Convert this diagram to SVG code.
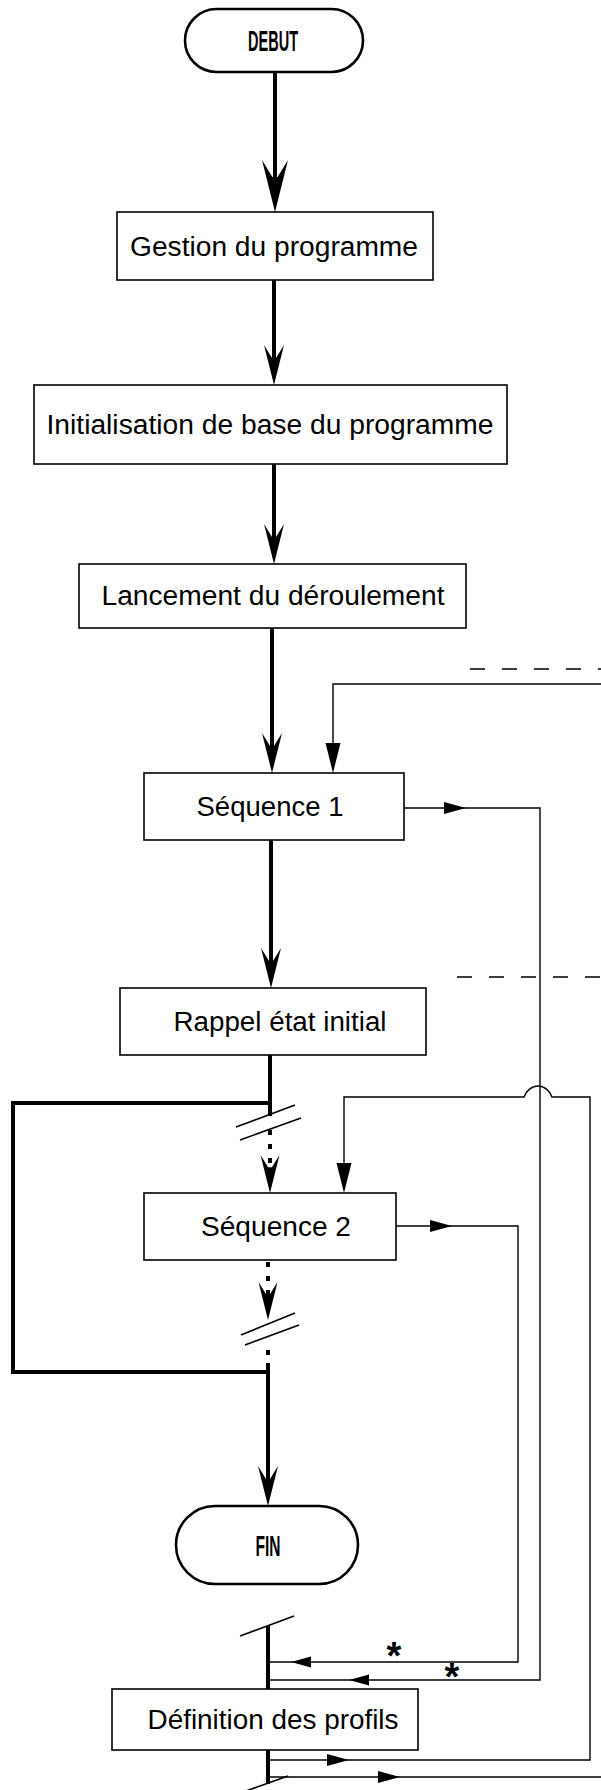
<svg xmlns="http://www.w3.org/2000/svg" width="601" height="1790" viewBox="0 0 601 1790">
<style>
.box{fill:#fff;stroke:#000;stroke-width:1.6}
.cap{fill:#fff;stroke:#000;stroke-width:2.6}
.lbl{font-family:"Liberation Sans",Arial,sans-serif;font-size:27px;fill:#000;text-anchor:middle}
.term{font-family:"Liberation Sans",Arial,sans-serif;font-size:30px;font-weight:bold;fill:#000;text-anchor:middle}
.thick{fill:none;stroke:#000;stroke-width:4}
.thin{fill:none;stroke:#000;stroke-width:1.4}
.dot{fill:none;stroke:#000;stroke-width:4;stroke-dasharray:5 9}
.dash{fill:none;stroke:#000;stroke-width:1.6;stroke-dasharray:15 17}
.slash{fill:none;stroke:#000;stroke-width:1.6}
.star{font-family:"Liberation Sans",Arial,sans-serif;font-size:38px;font-weight:bold;fill:#000;text-anchor:middle}
</style>
<defs>
<path id="ahBig" d="M0,0 L-10,-40 L-2,-27 L2,-27 L10,-40 Z" fill="#000"/>
<path id="ahThinDown" d="M0,0 L-7.5,-30 L7.5,-30 Z" fill="#000"/>
<path id="ahThinRight" d="M0,0 L-22,-6 L-22,6 Z" fill="#000"/>
<path id="ahThinLeft" d="M0,0 L20,-5.5 L20,5.5 Z" fill="#000"/>
</defs>

<g id="connectors">
  <!-- main spine -->
  <line class="thick" x1="275" y1="72" x2="275" y2="195"/>
  <use href="#ahBig" transform="translate(275,212) scale(1.3)"/>
  <line class="thick" x1="274" y1="280" x2="274" y2="367"/>
  <use href="#ahBig" transform="translate(274,385)"/>
  <line class="thick" x1="274" y1="464" x2="274" y2="547"/>
  <use href="#ahBig" transform="translate(274,564)"/>
  <line class="thick" x1="272" y1="628" x2="272" y2="755"/>
  <use href="#ahBig" transform="translate(272,773)"/>
  <line class="thick" x1="271" y1="840" x2="271" y2="970"/>
  <use href="#ahBig" transform="translate(271,988)"/>

  <!-- loop around sequence 2 -->
  <line class="thick" x1="270" y1="1055" x2="270" y2="1116"/>
  <path class="thick" d="M270,1103 L13,1103 L13,1372 L268,1372"/>
  <line class="slash" x1="236" y1="1127" x2="295" y2="1105"/>
  <line class="slash" x1="240" y1="1140" x2="301" y2="1118"/>
  <line class="dot" x1="270" y1="1130" x2="270" y2="1165"/>
  <use href="#ahBig" transform="translate(270,1193) scale(0.95)"/>

  <line class="dot" x1="268" y1="1262" x2="268" y2="1300"/>
  <use href="#ahBig" transform="translate(268,1320) scale(0.95)"/>
  <line class="slash" x1="241" y1="1335" x2="295" y2="1313"/>
  <line class="slash" x1="245" y1="1345" x2="299" y2="1325"/>
  <line class="dot" x1="268" y1="1350" x2="268" y2="1360"/>
  <line class="thick" x1="268" y1="1363" x2="268" y2="1489"/>
  <use href="#ahBig" transform="translate(268,1506)"/>

  <!-- dashed lines -->
  <line class="dash" x1="470" y1="669" x2="601" y2="669"/>
  <line class="dash" x1="457" y1="977" x2="601" y2="977"/>

  <!-- feed into sequence 1 -->
  <path class="thin" d="M601,684 L333,684 L333,760"/>
  <use href="#ahThinDown" transform="translate(333,773)"/>

  <!-- sequence 1 output -->
  <path class="thin" d="M404,808 L540,808 L540,1680 L268,1680"/>
  <use href="#ahThinRight" transform="translate(466,808)"/>
  <use href="#ahThinLeft" transform="translate(349,1680)"/>
  <text class="star" x="452" y="1690">*</text>

  <!-- feed into sequence 2 (with hop) -->
  <path class="thin" d="M268,1760 L590,1760 L590,1097 L552,1097 C549,1090 545,1086 538,1086 C531,1086 527,1090 524,1097 L344,1097 L344,1180"/>
  <use href="#ahThinDown" transform="translate(344,1193)"/>
  <use href="#ahThinRight" transform="translate(349,1760)"/>

  <!-- sequence 2 output -->
  <path class="thin" d="M396,1226 L518,1226 L518,1662 L268,1662"/>
  <use href="#ahThinRight" transform="translate(452,1226)"/>
  <use href="#ahThinLeft" transform="translate(291,1662)"/>
  <text class="star" x="394" y="1669">*</text>

  <!-- bottom bar -->
  <line class="thick" x1="268" y1="1626" x2="268" y2="1689"/>
  <line class="slash" x1="240" y1="1636" x2="294" y2="1616"/>
  <line class="thick" x1="268" y1="1750" x2="268" y2="1784"/>
  <line class="slash" x1="246" y1="1791" x2="288" y2="1776"/>
  <path class="thin" d="M268,1777 L601,1777"/>
  <use href="#ahThinRight" transform="translate(400,1777)"/>
</g>

<g id="debut">
  <rect class="cap" x="185" y="9" width="178" height="63" rx="31.5"/>
  <text class="term" x="273" y="51" textLength="50" lengthAdjust="spacingAndGlyphs">DEBUT</text>
</g>
<g id="gestion">
  <rect class="box" x="117" y="212" width="316" height="68"/>
  <text class="lbl" x="274" y="256" textLength="288" lengthAdjust="spacingAndGlyphs">Gestion du programme</text>
</g>
<g id="init">
  <rect class="box" x="34" y="385" width="473" height="79"/>
  <text class="lbl" x="270" y="434" textLength="447" lengthAdjust="spacingAndGlyphs">Initialisation de base du programme</text>
</g>
<g id="lancement">
  <rect class="box" x="79" y="564" width="387" height="64"/>
  <text class="lbl" x="273" y="605" textLength="343" lengthAdjust="spacingAndGlyphs">Lancement du déroulement</text>
</g>
<g id="seq1">
  <rect class="box" x="144" y="773" width="260" height="67"/>
  <text class="lbl" x="270" y="816" textLength="147" lengthAdjust="spacingAndGlyphs">Séquence 1</text>
</g>
<g id="rappel">
  <rect class="box" x="120" y="988" width="306" height="67"/>
  <text class="lbl" x="280" y="1031" textLength="213" lengthAdjust="spacingAndGlyphs">Rappel état initial</text>
</g>
<g id="seq2">
  <rect class="box" x="144" y="1193" width="252" height="67"/>
  <text class="lbl" x="276" y="1236" textLength="150" lengthAdjust="spacingAndGlyphs">Séquence 2</text>
</g>
<g id="fin">
  <rect class="cap" x="176" y="1506" width="182" height="78" rx="39"/>
  <text class="term" x="268" y="1556" textLength="25" lengthAdjust="spacingAndGlyphs">FIN</text>
</g>
<g id="definition">
  <rect class="box" x="112" y="1689" width="306" height="61"/>
  <text class="lbl" x="273" y="1729" textLength="251" lengthAdjust="spacingAndGlyphs">Définition des profils</text>
</g>
</svg>
